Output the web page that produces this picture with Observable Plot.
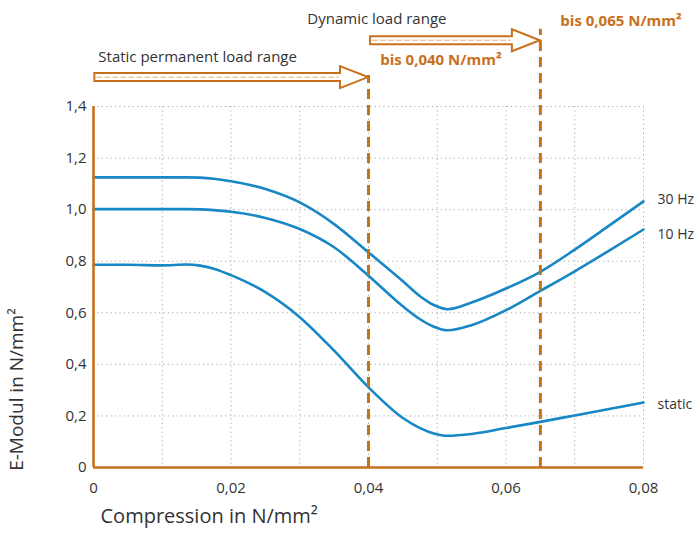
<!DOCTYPE html>
<html>
<head>
<meta charset="utf-8">
<script src="https://cdn.jsdelivr.net/npm/d3@7"></script>
<script src="https://cdn.jsdelivr.net/npm/@observablehq/plot@0.6"></script>
<style>
  html, body { margin: 0; padding: 0; background: #fff; }
  #chart { width: 698px; height: 536px; }
  svg { font-family: "Open Sans", "Noto Sans", sans-serif; }
</style>
</head>
<body>
<div id="chart"></div>
<script>
// ---- data ----
const xValues = [0, 0.005, 0.01, 0.0135, 0.0155, 0.0175, 0.02, 0.025, 0.03, 0.035, 0.04, 0.045, 0.0475, 0.0495, 0.0515, 0.055, 0.06, 0.065, 0.07, 0.075, 0.08];
const hz30   = [1.125, 1.125, 1.125, 1.125, 1.124, 1.120, 1.110, 1.080, 1.028, 0.944, 0.834, 0.722, 0.664, 0.630, 0.614, 0.640, 0.694, 0.759, 0.845, 0.938, 1.032];
const hz10   = [1.002, 1.002, 1.002, 1.002, 1.001, 0.998, 0.992, 0.968, 0.925, 0.854, 0.744, 0.625, 0.575, 0.546, 0.532, 0.552, 0.610, 0.685, 0.761, 0.841, 0.923];
const stat   = [0.786, 0.786, 0.784, 0.787, 0.783, 0.771, 0.746, 0.680, 0.583, 0.453, 0.311, 0.192, 0.153, 0.132, 0.123, 0.130, 0.153, 0.177, 0.202, 0.227, 0.252];
const seriesNames = ["30 Hz", "10 Hz", "static"];
const seriesLabelY = [1.039, 0.903, 0.244];

const xTicks = [0, 0.02, 0.04, 0.06, 0.08];
const yTicks = [0, 0.2, 0.4, 0.6, 0.8, 1.0, 1.2, 1.4];
const xGrid = [0.01, 0.02, 0.03, 0.04, 0.05, 0.06, 0.07, 0.08];
const yGrid = [0.2, 0.4, 0.6, 0.8, 1.0, 1.2, 1.4];

const limitX = [0.04, 0.065];
const limitTop = [1.52, 1.70];
const limitLabels = ["bis 0,040 N/mm²", "bis 0,065 N/mm²"];
const limitLabelPos = [[0.0417, 1.578], [0.0679, 1.729]];

const rangeLabels = ["Static permanent load range", "Dynamic load range"];
const rangeLabelPos = [[0.0007, 1.59], [0.0311, 1.737]];
const rangeArrows = [[0.0002, 0.04, 1.512], [0.0403, 0.065, 1.655]];

// ---- build tables ----
const seriesVals = [hz30, hz10, stat];
const rows = [];
seriesNames.forEach((name, i) => xValues.forEach((x, j) => rows.push({series: name, x, y: seriesVals[i][j]})));
const endLabels = seriesNames.map((name, i) => ({name, x: xValues[xValues.length - 1], y: seriesLabelY[i]}));
const limits = limitX.map((x, i) => ({x, top: limitTop[i]}));
const limitText = limitLabels.map((t, i) => ({t, x: limitLabelPos[i][0], y: limitLabelPos[i][1]}));
const rangeText = rangeLabels.map((t, i) => ({t, x: rangeLabelPos[i][0], y: rangeLabelPos[i][1]}));

const fmt = d => d === 0 ? "0" : d3.format(d < 0.1 ? ".2f" : ".1f")(d).replace(".", ",");

const BLUE = "#1787c5";
const ORANGE = "#c8701c";
const TEXT = "#333333";

const chart = Plot.plot({
  width: 698,
  height: 536,
  marginLeft: 93,
  marginRight: 55,
  marginTop: 106,
  marginBottom: 69,
  style: {fontFamily: "'Open Sans', 'Noto Sans', sans-serif", background: "#fff", overflow: "visible"},
  x: {domain: [0, 0.08]},
  y: {domain: [0, 1.4]},
  marks: [
    Plot.gridX(xGrid, {stroke: "#888", strokeOpacity: 0.7, strokeDasharray: "1.2,3.2", strokeWidth: 1}),
    Plot.gridY(yGrid, {stroke: "#888", strokeOpacity: 0.7, strokeDasharray: "1.2,3.2", strokeWidth: 1}),
    Plot.axisX({ticks: xTicks, tickSize: 0, tickPadding: 15, tickFormat: fmt, fontSize: 15, color: TEXT, label: null}),
    Plot.axisY({ticks: yTicks, tickSize: 0, tickPadding: 7, tickFormat: fmt, fontSize: 15, color: TEXT, label: null}),
    Plot.line(rows, {x: "x", y: "y", z: "series", stroke: BLUE, strokeWidth: 2.6, curve: "monotone-x"}),
    Plot.ruleX([0], {y1: 0, y2: 1.4, stroke: ORANGE, strokeWidth: 2.6}),
    Plot.ruleY([0], {x1: 0, x2: 0.08, stroke: ORANGE, strokeWidth: 2.6}),
    Plot.ruleX(limits, {x: "x", y1: 0, y2: "top", stroke: ORANGE, strokeWidth: 3, strokeDasharray: "10,6"}),
    Plot.text(endLabels, {x: "x", y: "y", text: "name", dx: 14, textAnchor: "start", fontSize: 14, fill: TEXT}),
    Plot.text(limitText, {x: "x", y: "y", text: "t", textAnchor: "start", fontSize: 15, fontWeight: "bold", fill: ORANGE}),
    Plot.text(rangeText, {x: "x", y: "y", text: "t", textAnchor: "start", fontSize: 15, fill: TEXT}),
    Plot.text(["E-Modul in N/mm²"], {frameAnchor: "bottom-left", dx: -71, dy: -78, rotate: -90, textAnchor: "middle", fontSize: 19, fill: TEXT}),
    Plot.text(["Compression in N/mm²"], {frameAnchor: "bottom-left", dx: 7, dy: 55, textAnchor: "start", fontSize: 20, fill: TEXT})
  ]
});

// hollow range arrows, positioned through the plot's scales
const sx = chart.scale("x"), sy = chart.scale("y");
const g = d3.select(chart).append("g");
rangeArrows.forEach(([a, b, yv]) => {
  const x0 = sx.apply(a), x1 = sx.apply(b), y = sy.apply(yv);
  const hw = 4, hl = 28, hh = 11;
  const pts = [[x0, y - hw], [x1 - hl, y - hw], [x1 - hl, y - hh], [x1, y], [x1 - hl, y + hh], [x1 - hl, y + hw], [x0, y + hw]];
  g.append("polygon").attr("points", pts.map(p => p.join(",")).join(" "))
    .attr("fill", "#fff").attr("stroke", ORANGE).attr("stroke-width", 2).attr("stroke-linejoin", "miter");
  g.append("line").attr("x1", x0 + 2).attr("x2", x1 - hl - 1).attr("y1", y).attr("y2", y)
    .attr("stroke", ORANGE).attr("stroke-opacity", 0.55).attr("stroke-width", 1).attr("stroke-dasharray", "6,2");
});

document.getElementById("chart").appendChild(chart);
</script>
</body>
</html>
